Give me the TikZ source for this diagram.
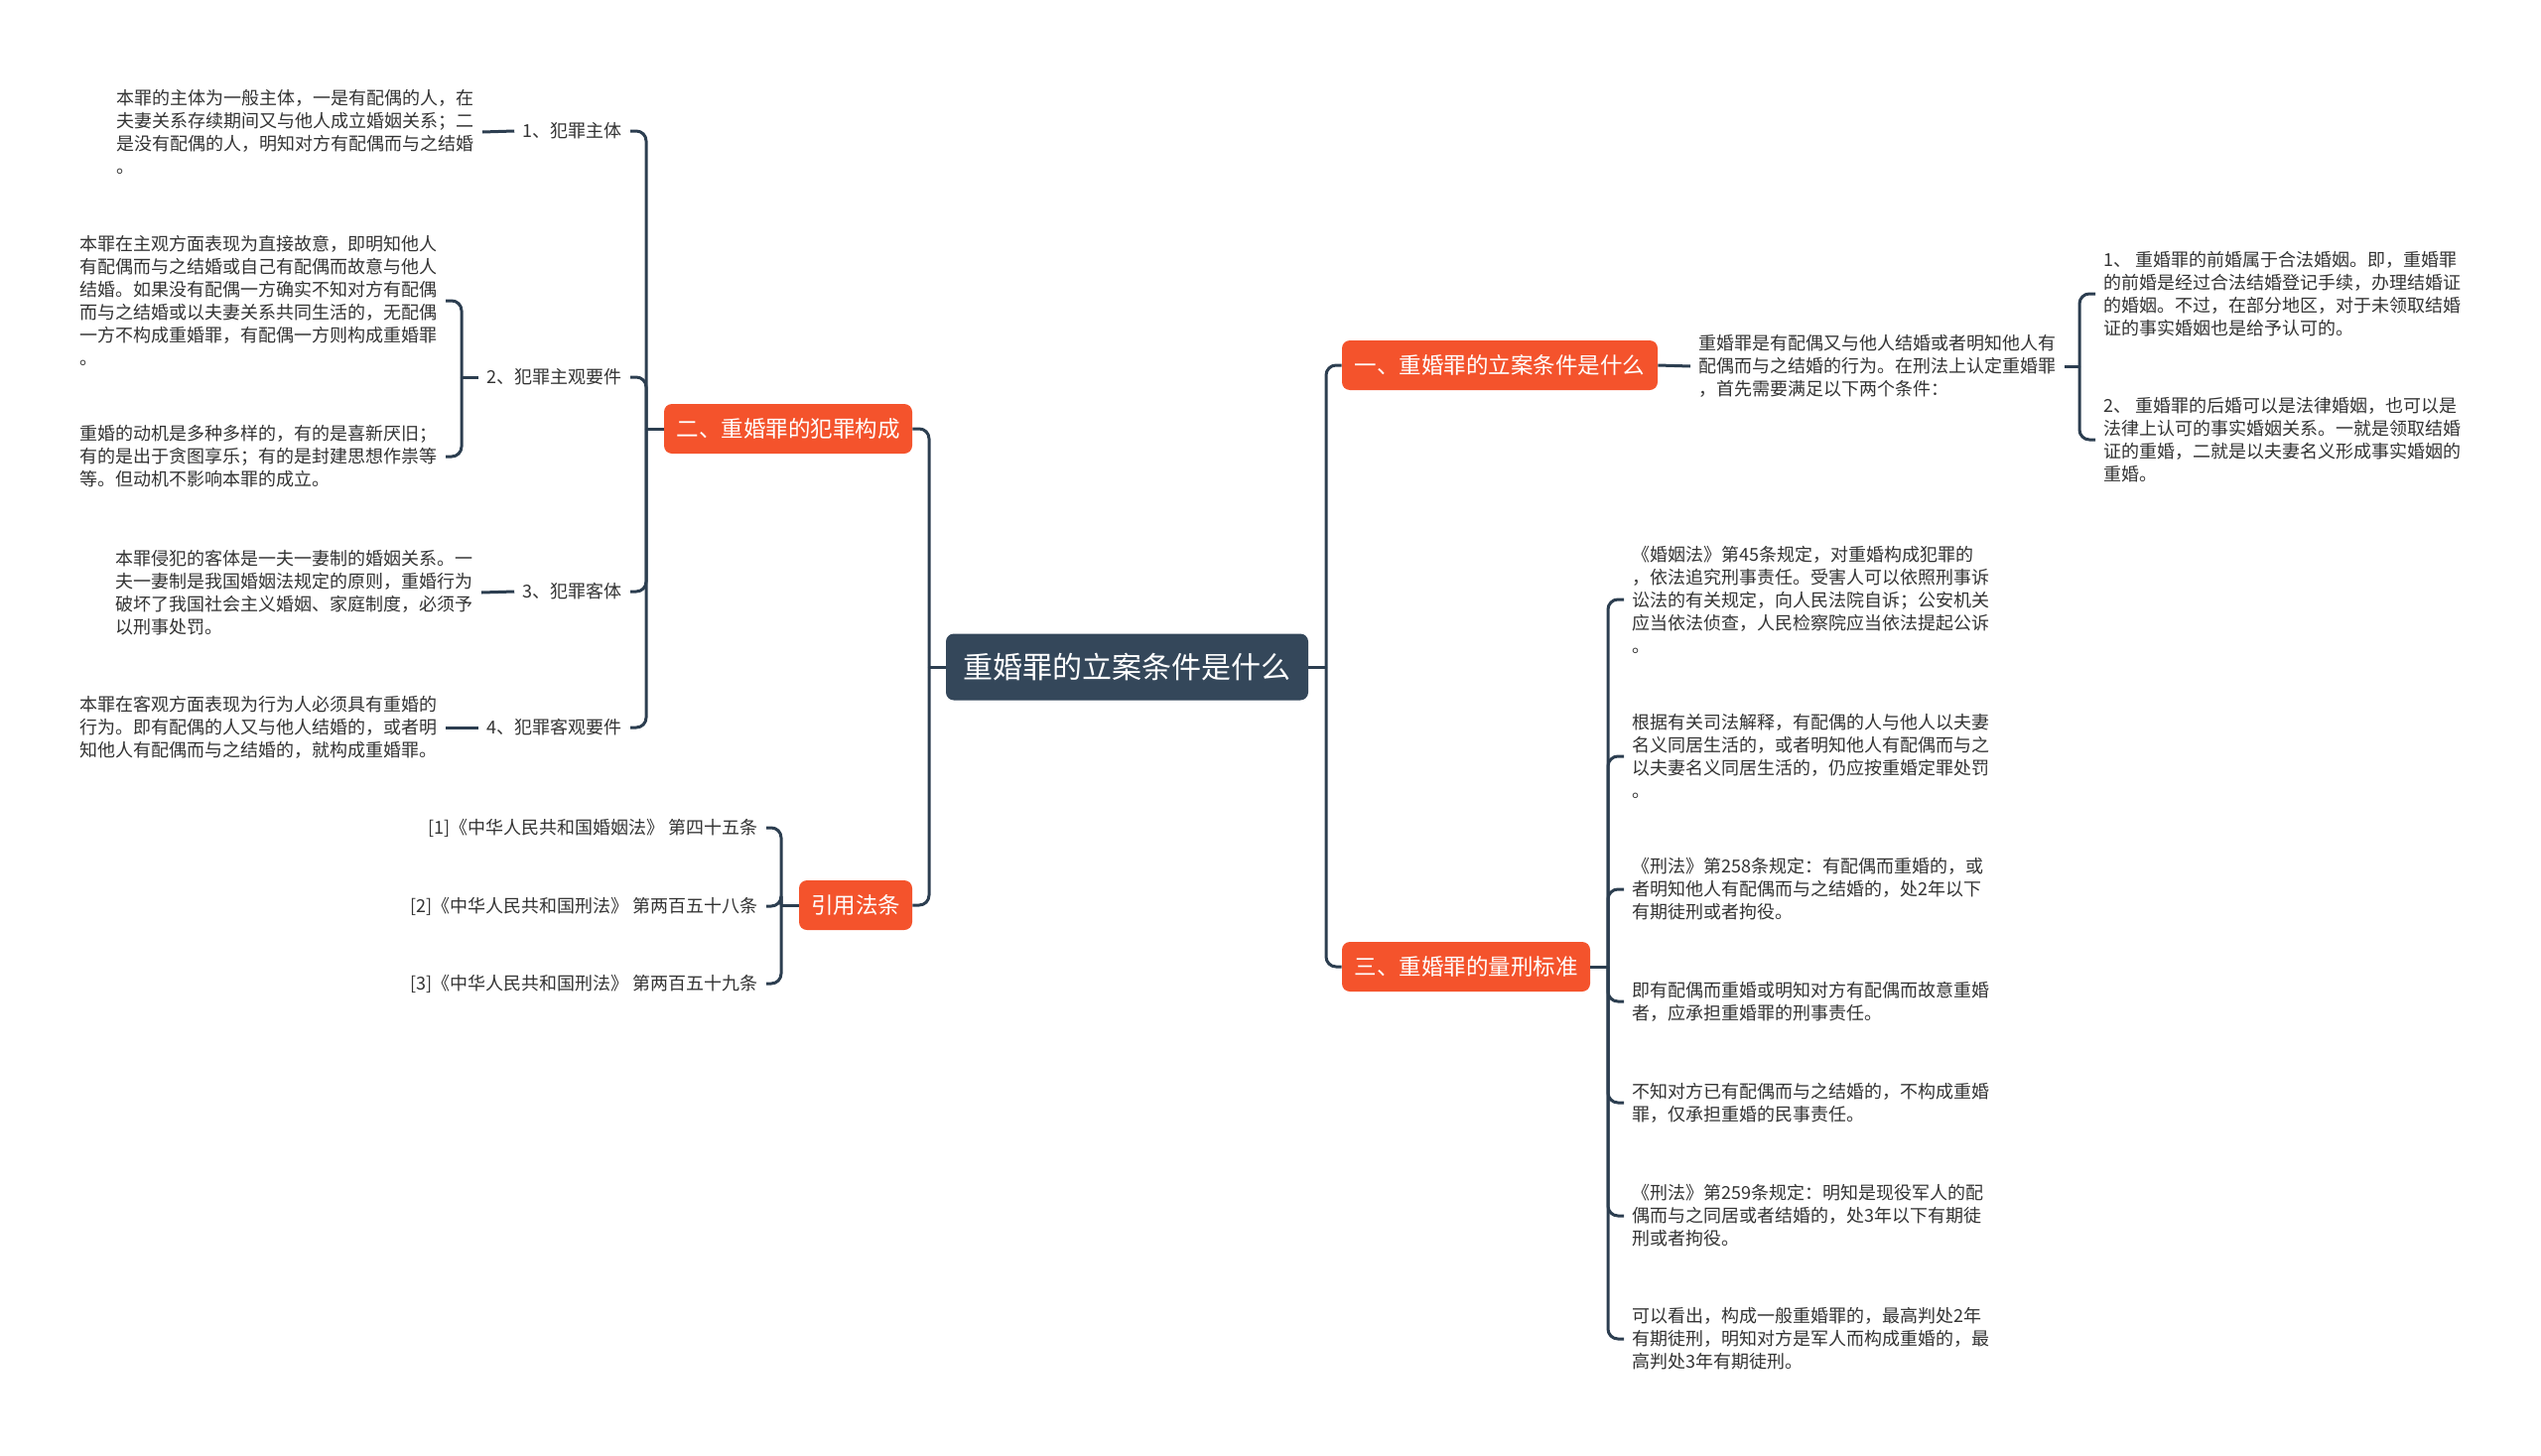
\documentclass[tikz,border=0pt]{standalone}
\usepackage{fontspec}
\setmainfont{Noto Sans CJK SC}
\usepackage{tikz}
\definecolor{mmRoot}{HTML}{34475A}
\definecolor{mmMain}{HTML}{F4532C}
\definecolor{mmLine}{HTML}{2C3E50}
\definecolor{mmText}{HTML}{333333}
\tikzset{
  mmroot/.style={
    fill=mmRoot, text=white, rounded corners=4pt, minimum width=182.5pt,
    minimum height=33.5pt, font=\fontsize{15}{17}\selectfont
  },
  mmmain/.style={
    fill=mmMain, text=white, rounded corners=4pt, minimum height=25pt,
    font=\fontsize{11.25}{13}\selectfont
  },
  mmsub/.style={text=mmText, inner sep=4pt, font=\fontsize{9}{11}\selectfont},
  mmleaf/.style={text=mmText, inner sep=4pt, align=left, font=\fontsize{9}{11.5}\selectfont},
  mmedge/.style={draw=mmLine, line width=1.5pt, rounded corners=5pt}
}
\begin{document}
\begin{tikzpicture}[x=0.5pt, y=-0.5pt]
  \useasboundingbox (0,0) rectangle (2560,1467);
  \node[mmroot] (root) at (1135.5,672) {重婚罪的立案条件是什么};
  \node[mmmain, minimum width=159pt] (cond) at (1511,368) {一、重婚罪的立案条件是什么};
  \node[mmmain, minimum width=125pt] (form) at (794,432) {二、重婚罪的犯罪构成};
  \node[mmmain, minimum width=125pt] (pen) at (1477,974) {三、重婚罪的量刑标准};
  \node[mmmain, minimum width=57pt] (refs) at (862,912) {引用法条};

  \coordinate (jl) at (936,672);
  \coordinate (jr) at (1336,672);
  \coordinate (jform) at (651,432);
  \coordinate (jsubj) at (465,380);
  \coordinate (jrefs) at (787,912);
  \coordinate (jcond) at (2095,369);
  \coordinate (jpen) at (1620,974);

  \node[mmsub, anchor=east] (actor) at (635,132) {1、犯罪主体};
  \node[mmsub, anchor=east] (subj) at (635,380) {2、犯罪主观要件};
  \node[mmsub, anchor=east] (obj) at (635,596) {3、犯罪客体};
  \node[mmsub, anchor=east] (act) at (635,733) {4、犯罪客观要件};

  \node[mmleaf, anchor=east] (actortxt) at (486,133) {本罪的主体为一般主体，一是有配偶的人，在\\夫妻关系存续期间又与他人成立婚姻关系；二\\是没有配偶的人，明知对方有配偶而与之结婚\\。};
  \node[mmleaf, anchor=east] (subjtxta) at (449,303) {本罪在主观方面表现为直接故意，即明知他人\\有配偶而与之结婚或自己有配偶而故意与他人\\结婚。如果没有配偶一方确实不知对方有配偶\\而与之结婚或以夫妻关系共同生活的，无配偶\\一方不构成重婚罪，有配偶一方则构成重婚罪\\。};
  \node[mmleaf, anchor=east] (subjtxtb) at (449,460) {重婚的动机是多种多样的，有的是喜新厌旧；\\有的是出于贪图享乐；有的是封建思想作祟等\\等。但动机不影响本罪的成立。};
  \node[mmleaf, anchor=east] (objtxt) at (485,597) {本罪侵犯的客体是一夫一妻制的婚姻关系。一\\夫一妻制是我国婚姻法规定的原则，重婚行为\\破坏了我国社会主义婚姻、家庭制度，必须予\\以刑事处罚。};
  \node[mmleaf, anchor=east] (acttxt) at (449,733) {本罪在客观方面表现为行为人必须具有重婚的\\行为。即有配偶的人又与他人结婚的，或者明\\知他人有配偶而与之结婚的，就构成重婚罪。};

  \node[mmsub, anchor=east] (ref1) at (772,834) {[1]《中华人民共和国婚姻法》 第四十五条};
  \node[mmsub, anchor=east] (ref2) at (772,913) {[2]《中华人民共和国刑法》 第两百五十八条};
  \node[mmsub, anchor=east] (ref3) at (772,991) {[3]《中华人民共和国刑法》 第两百五十九条};

  \node[mmleaf, anchor=west] (condtxt) at (1703,369) {重婚罪是有配偶又与他人结婚或者明知他人有\\配偶而与之结婚的行为。在刑法上认定重婚罪\\，首先需要满足以下两个条件：};
  \node[mmleaf, anchor=west] (condone) at (2111,296) {1、 重婚罪的前婚属于合法婚姻。即，重婚罪\\的前婚是经过合法结婚登记手续，办理结婚证\\的婚姻。不过，在部分地区，对于未领取结婚\\证的事实婚姻也是给予认可的。};
  \node[mmleaf, anchor=west] (condtwo) at (2111,443) {2、 重婚罪的后婚可以是法律婚姻，也可以是\\法律上认可的事实婚姻关系。一就是领取结婚\\证的重婚，二就是以夫妻名义形成事实婚姻的\\重婚。};

  \node[mmleaf, anchor=west] (pena) at (1636,604) {《婚姻法》第45条规定，对重婚构成犯罪的\\，依法追究刑事责任。受害人可以依照刑事诉\\讼法的有关规定，向人民法院自诉；公安机关\\应当依法侦查，人民检察院应当依法提起公诉\\。};
  \node[mmleaf, anchor=west] (penb) at (1636,762) {根据有关司法解释，有配偶的人与他人以夫妻\\名义同居生活的，或者明知他人有配偶而与之\\以夫妻名义同居生活的，仍应按重婚定罪处罚\\。};
  \node[mmleaf, anchor=west] (penc) at (1636,896) {《刑法》第258条规定：有配偶而重婚的，或\\者明知他人有配偶而与之结婚的，处2年以下\\有期徒刑或者拘役。};
  \node[mmleaf, anchor=west] (pend) at (1636,1009) {即有配偶而重婚或明知对方有配偶而故意重婚\\者，应承担重婚罪的刑事责任。};
  \node[mmleaf, anchor=west] (pene) at (1636,1111) {不知对方已有配偶而与之结婚的，不构成重婚\\罪，仅承担重婚的民事责任。};
  \node[mmleaf, anchor=west] (penf) at (1636,1225) {《刑法》第259条规定：明知是现役军人的配\\偶而与之同居或者结婚的，处3年以下有期徒\\刑或者拘役。};
  \node[mmleaf, anchor=west] (peng) at (1636,1349) {可以看出，构成一般重婚罪的，最高判处2年\\有期徒刑，明知对方是军人而构成重婚的，最\\高判处3年有期徒刑。};

  \draw[mmedge] (root.west) -- (jl);
  \draw[mmedge] (jl) |- (form.east);
  \draw[mmedge] (jl) |- (refs.east);
  \draw[mmedge] (root.east) -- (jr);
  \draw[mmedge] (jr) |- (cond.west);
  \draw[mmedge] (jr) |- (pen.west);

  \draw[mmedge] (form.west) -- (jform);
  \draw[mmedge] (jform) |- (actor.east);
  \draw[mmedge] (jform) |- (subj.east);
  \draw[mmedge] (jform) |- (obj.east);
  \draw[mmedge] (jform) |- (act.east);
  \draw[mmedge] (actor.west) -- (actortxt.east);
  \draw[mmedge] (subj.west) -- (jsubj);
  \draw[mmedge] (jsubj) |- (subjtxta.east);
  \draw[mmedge] (jsubj) |- (subjtxtb.east);
  \draw[mmedge] (obj.west) -- (objtxt.east);
  \draw[mmedge] (act.west) -- (acttxt.east);

  \draw[mmedge] (refs.west) -- (jrefs);
  \draw[mmedge] (jrefs) |- (ref1.east);
  \draw[mmedge] (jrefs) |- (ref2.east);
  \draw[mmedge] (jrefs) |- (ref3.east);

  \draw[mmedge] (cond.east) -- (condtxt.west);
  \draw[mmedge] (condtxt.east) -- (jcond);
  \draw[mmedge] (jcond) |- (condone.west);
  \draw[mmedge] (jcond) |- (condtwo.west);

  \draw[mmedge] (pen.east) -- (jpen);
  \foreach \leaf in {pena,penb,penc,pend,pene,penf,peng}
    \draw[mmedge] (jpen) |- (\leaf.west);
\end{tikzpicture}
\end{document}
